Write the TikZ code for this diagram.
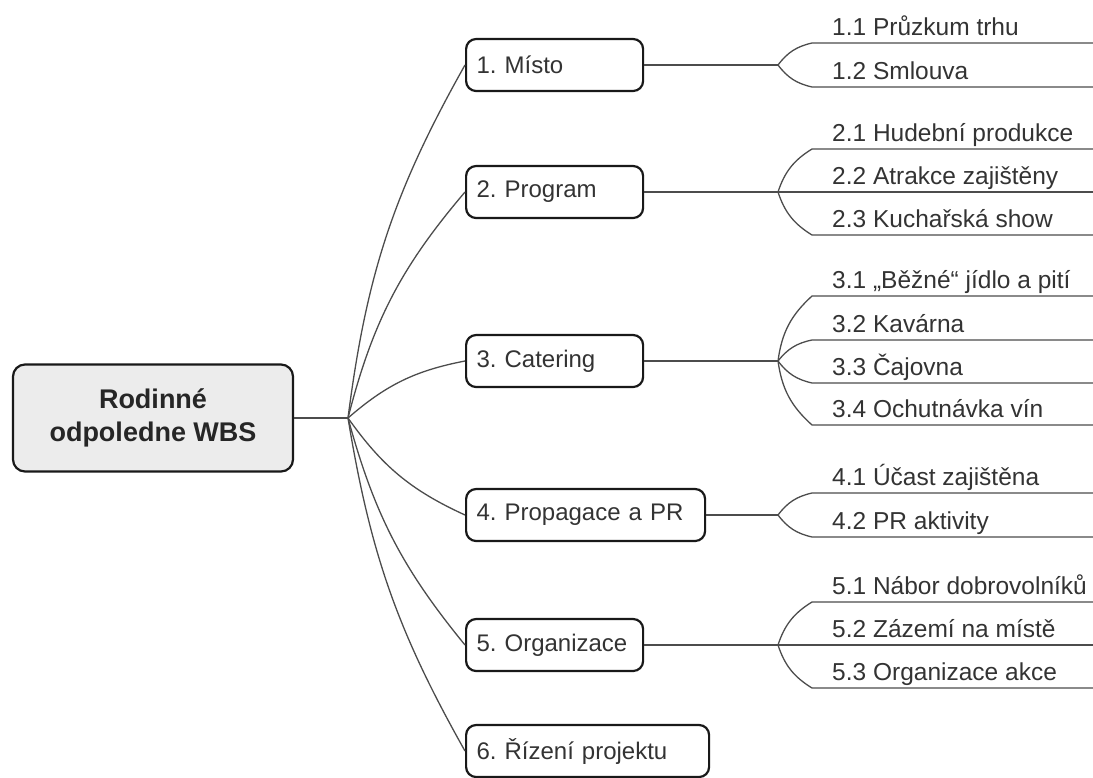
\documentclass[tikz,border=0pt]{standalone}
\usepackage{fontspec}
\setmainfont{Liberation Sans}
\begin{document}
\frenchspacing
\begin{tikzpicture}[x=1pt, y=-1pt,
    rootbox/.style={draw=black!90, rounded corners=12pt, line width=2.2pt, fill=gray!15, minimum width=280pt, minimum height=107pt, align=center, text=black!85, font=\fontsize{27}{33}\selectfont\bfseries},
    topic/.style={draw=black!90, rounded corners=10pt, line width=2.2pt, anchor=west, text width=156pt, inner xsep=10.5pt, minimum height=52pt, align=left, text=black!80, font=\fontsize{24}{29}\selectfont},
    leaf/.style={anchor=base west, inner sep=0pt, text=black!80, font=\fontsize{24.5}{29}\selectfont},
    link/.style={line width=1.3pt, black!70}]
    \useasboundingbox (0,0) rectangle (1093,777);

    % centre and first level
    \node[rootbox] (root) at (153,418) {Rodinné\\odpoledne WBS};
    \coordinate (hub) at (348,418);
    \coordinate (rim) at (1093,0);
    \node[topic] (t1) at (465,65) {1. Místo};
    \node[topic] (t2) at (465,192) {2. Program};
    \node[topic] (t3) at (465,361) {3. Catering};
    \node[topic, text width=218pt] (t4) at (465,515) {4. Propagace a PR};
    \node[topic] (t5) at (465,645) {5. Organizace};
    \node[topic, text width=222pt] (t6) at (465,751) {6. Řízení projektu};

    % split points
    \coordinate (s1) at (778,65);
    \coordinate (s2) at (778,192);
    \coordinate (s3) at (778,361);
    \coordinate (s4) at (778,515);
    \coordinate (s5) at (778,645);

    % leaves
    \coordinate (l11) at (812,43);
    \coordinate (l12) at (812,87);
    \node[leaf] (n11) at (832,35) {1.1 Průzkum trhu};
    \node[leaf] (n12) at (832,79) {1.2 Smlouva};

    \coordinate (l21) at (812,149);
    \coordinate (l22) at (812,192);
    \coordinate (l23) at (812,235);
    \node[leaf] (n21) at (832,141) {2.1 Hudební produkce};
    \node[leaf] (n22) at (832,184) {2.2 Atrakce zajištěny};
    \node[leaf] (n23) at (832,227) {2.3 Kuchařská show};

    \coordinate (l31) at (812,296);
    \coordinate (l32) at (812,340);
    \coordinate (l33) at (812,383);
    \coordinate (l34) at (812,425);
    \node[leaf] (n31) at (832,288) {3.1 „Běžné“ jídlo a pití};
    \node[leaf] (n32) at (832,332) {3.2 Kavárna};
    \node[leaf] (n33) at (832,375) {3.3 Čajovna};
    \node[leaf] (n34) at (832,417) {3.4 Ochutnávka vín};

    \coordinate (l41) at (812,493);
    \coordinate (l42) at (812,537);
    \node[leaf] (n41) at (832,485) {4.1 Účast zajištěna};
    \node[leaf] (n42) at (832,529) {4.2 PR aktivity};

    \coordinate (l51) at (812,602);
    \coordinate (l52) at (812,645);
    \coordinate (l53) at (812,688);
    \node[leaf] (n51) at (832,594) {5.1 Nábor dobrovolníků};
    \node[leaf] (n52) at (832,637) {5.2 Zázemí na místě};
    \node[leaf] (n53) at (832,680) {5.3 Organizace akce};

    % connectors
    \draw[link] (root) -- (hub);
    \draw[link] (hub) to[bend left=11] (t1.west);
    \draw[link] (hub) to[bend left=13] (t2.west);
    \draw[link] (hub) to[bend left=15] (t3.west);
    \draw[link] (hub) to[bend right=15] (t4.west);
    \draw[link] (hub) to[bend right=12] (t5.west);
    \draw[link] (hub) to[bend right=10] (t6.west);

    \draw[link] (t1) -- (s1);
    \draw[link] (t2) -- (s2);
    \draw[link] (t3) -- (s3);
    \draw[link] (t4) -- (s4);
    \draw[link] (t5) -- (s5);

    \draw[link] (s1) to[bend left=20] (l11) -- (l11 -| rim);
    \draw[link] (s1) to[bend right=20] (l12) -- (l12 -| rim);
    \draw[link] (s2) to[bend left=20] (l21) -- (l21 -| rim);
    \draw[link] (s2) -- (l22) -- (l22 -| rim);
    \draw[link] (s2) to[bend right=20] (l23) -- (l23 -| rim);
    \draw[link] (s3) to[bend left=20] (l31) -- (l31 -| rim);
    \draw[link] (s3) to[bend left=20] (l32) -- (l32 -| rim);
    \draw[link] (s3) to[bend right=20] (l33) -- (l33 -| rim);
    \draw[link] (s3) to[bend right=20] (l34) -- (l34 -| rim);
    \draw[link] (s4) to[bend left=20] (l41) -- (l41 -| rim);
    \draw[link] (s4) to[bend right=20] (l42) -- (l42 -| rim);
    \draw[link] (s5) to[bend left=20] (l51) -- (l51 -| rim);
    \draw[link] (s5) -- (l52) -- (l52 -| rim);
    \draw[link] (s5) to[bend right=20] (l53) -- (l53 -| rim);
\end{tikzpicture}
\end{document}
